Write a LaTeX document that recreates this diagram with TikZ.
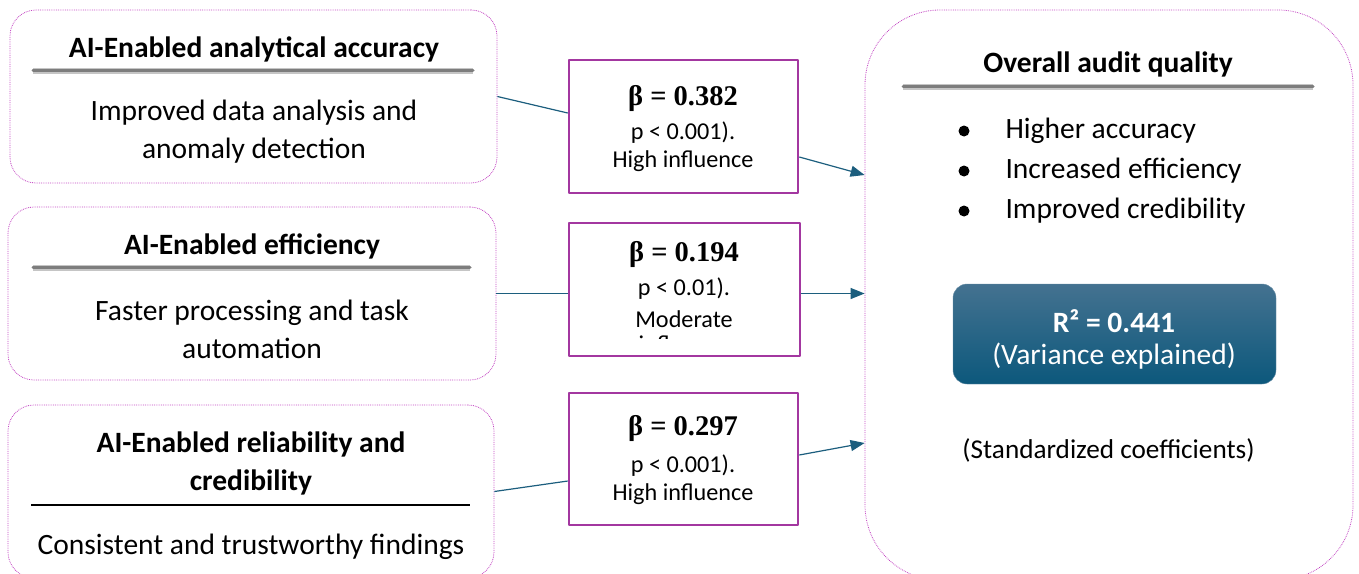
\documentclass[tikz,border=0pt]{standalone}
\usepackage{fontspec}
\setmainfont{Carlito}
\newfontfamily\betafont{Liberation Serif}
\usetikzlibrary{arrows.meta,positioning,calc}

\definecolor{dotpink}{RGB}{195,70,195}
\definecolor{betapurple}{RGB}{163,55,160}
\definecolor{linkblue}{RGB}{28,94,126}
\definecolor{rulegrey}{RGB}{125,125,125}
\definecolor{rtop}{RGB}{68,114,144}
\definecolor{rbot}{RGB}{12,88,124}

\tikzset{
  factorbox/.style={draw=dotpink, densely dotted, line width=0.8pt, rounded corners=26pt},
  betabox/.style={draw=betapurple, line width=2.6pt},
  greyrule/.style={rulegrey, line width=3pt, line cap=round},
  titletext/.style={font=\fontsize{29.5}{38}\selectfont\bfseries, align=center},
  bodytext/.style={font=\fontsize{29.5}{38}\selectfont, align=center},
  smalltext/.style={font=\fontsize{24.2}{28}\selectfont, align=center},
  betaval/.style={font=\fontsize{28.5}{30}\selectfont\betafont\bfseries},
  link/.style={linkblue, line width=1.2pt},
  linkarrow/.style={link, -{Triangle[length=14pt,width=11pt]}}
}

\begin{document}
\begin{tikzpicture}[x=1pt, y=-1pt, line join=round]

    \useasboundingbox (0,0) rectangle (1359,573);
    \clip (0,0) rectangle (1359,573);

    % Cadres des facteurs (gauche)
    \node[factorbox, minimum width=487pt, minimum height=173pt] (src1) at (253.5,96.5) {};
    \node[factorbox, minimum width=488pt, minimum height=173pt] (src2) at (252,293.5) {};
    \node[factorbox, minimum width=486pt, minimum height=173pt] (src3) at (251,491.5) {};

    \node[titletext] (src1title) at (254,49) {AI-Enabled analytical accuracy};
    \draw[rulegrey!45, line width=5.5pt] (33,71) -- (473,71);
    \draw[greyrule] (33,70) -- (473,70);
    \node[bodytext] (src1body) at (254,132) {Improved data analysis and\\anomaly detection};

    \node[titletext] (src2title) at (252,246) {AI-Enabled efficiency};
    \draw[rulegrey!45, line width=5.5pt] (33,268) -- (470,268);
    \draw[greyrule] (33,267) -- (470,267);
    \node[bodytext] (src2body) at (252,329) {Faster processing and task\\automation};

    \node[titletext] (src3title) at (251,463) {AI-Enabled reliability and\\credibility};
    \draw[black, line width=1.4pt] (31,505) -- (470,505);
    \node[bodytext] (src3body) at (251,547) {Consistent and trustworthy findings};

    % Coefficients beta
    \node[betabox, minimum width=229pt, minimum height=133pt] (beta1) at (683.5,126.5) {};
    \node[betabox, minimum width=231pt, minimum height=133pt] (beta2) at (684.5,289.5) {};
    \node[betabox, minimum width=229pt, minimum height=132pt] (beta3) at (683.5,459) {};

    \node[betaval] (beta1val) at (683,98) {β = 0.382};
    \node[smalltext] (beta1txt) at (683,147) {p < 0.001).\\High influence};

    \node[betaval] (beta2val) at (684,254) {β = 0.194};
    \begin{scope}
        \clip (571,225) rectangle (798,338);
        \node[smalltext, font=\fontsize{24.2}{32}\selectfont, anchor=north] (beta2txt) at (684,274)
            {p < 0.01).\\Moderate\\[-7pt]influence};
    \end{scope}

    \node[betaval] (beta3val) at (683,428) {β = 0.297};
    \node[smalltext] (beta3txt) at (683,480) {p < 0.001).\\High influence};

    % Cadre de droite
    \node[factorbox, rounded corners=75pt, minimum width=488pt, minimum height=570pt] (overall) at (1109,295) {};
    \node[titletext] (overalltitle) at (1108,64) {Overall audit quality};
    \draw[rulegrey!45, line width=5.5pt] (903,87) -- (1313,87);
    \draw[greyrule] (903,86) -- (1313,86);

    \foreach \y/\item in {131/Higher accuracy, 171/Increased efficiency, 211/Improved credibility} {
        \fill[black] (964,\y) circle (5.5pt);
        \node[bodytext, anchor=west] at (1002,\y) {\item};
    }

    \node[rounded corners=14pt, top color=rtop, bottom color=rbot, draw=rtop!80,
          minimum width=323pt, minimum height=100pt] (rsq) at (1114.5,334) {};
    \node[titletext, text=white] (rsqval) at (1114,321) {R² = 0.441};
    \node[bodytext, text=white] (rsqtxt) at (1114,356) {(Variance explained)};

    \node[bodytext, font=\fontsize{27.2}{34}\selectfont] (stdnote) at (1108.5,450) {(Standardized coefficients)};

    % Fleches
    \draw[link] (src1.east) -- ($(beta1.west)+(0,-13.5)$);
    \draw[linkarrow] ($(beta1.east)+(0,30.5)$) -- ($(overall.west)+(0,-120)$);
    \draw[link] (src2.east) -- (src2.east -| beta2.west);
    \draw[linkarrow] (src2.east -| beta2.east) -- (src2.east -| overall.west);
    \draw[link] (src3.east) -- ($(beta3.west)+(0,22)$);
    \draw[linkarrow] ($(beta3.east)+(0,-4)$) -- ($(overall.west)+(0,148)$);

\end{tikzpicture}
\end{document}
